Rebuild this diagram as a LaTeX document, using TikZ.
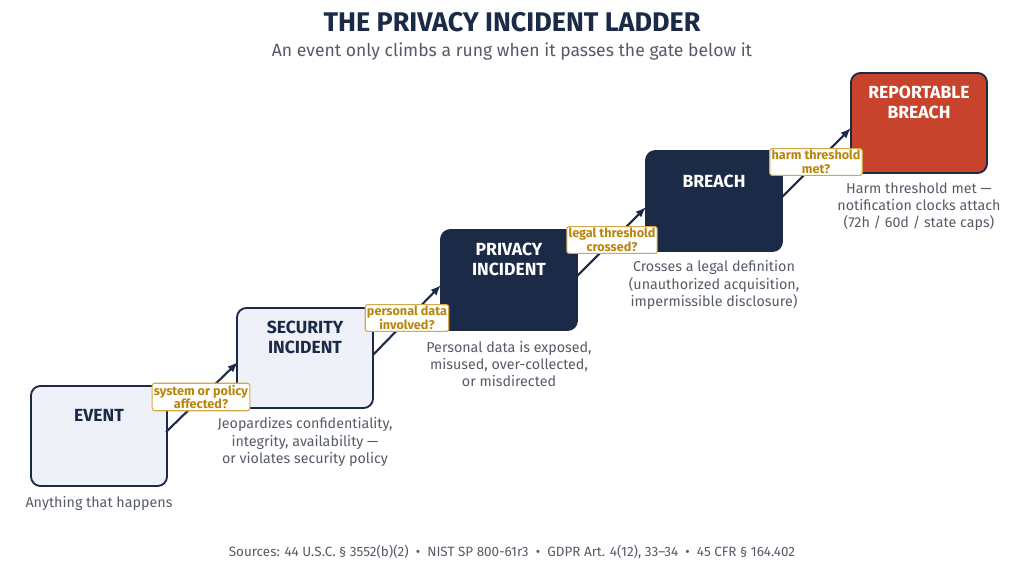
\documentclass[tikz,border=0pt]{standalone}
\usepackage{fontspec}
\setmainfont{Fira Sans}
\usetikzlibrary{arrows.meta}
\definecolor{navy}{HTML}{1B2A47}
\definecolor{pale}{HTML}{EEF1F8}
\definecolor{brick}{HTML}{C8432B}
\definecolor{gold}{HTML}{B8860B}
\definecolor{goldline}{HTML}{D4A84A}
\definecolor{grey}{HTML}{555B66}
\tikzset{
  rung/.style={draw=navy,line width=1.6pt,rounded corners=8pt,minimum width=136*0.03cm,minimum height=100*0.03cm},
  rungtxt/.style={font=\fontsize{15}{17}\selectfont\bfseries,align=center},
  gate/.style={draw=goldline,fill=white,line width=0.9pt,rounded corners=2pt,inner sep=1.5pt,font=\fontsize{10.8}{11.5}\selectfont\bfseries,text=gold,align=center},
  note/.style={font=\fontsize{12.2}{14.6}\selectfont,text=grey,align=center},
  climb/.style={draw=navy,line width=1.8pt,-{Latex[length=9pt,width=7pt]}}
}
\begin{document}
\begin{tikzpicture}[x=0.03cm,y=-0.03cm]
\useasboundingbox (0,0) rectangle (1024,583);
\node[font=\fontsize{23}{26}\selectfont\bfseries,text=navy] (title) at (512,22) {THE PRIVACY INCIDENT LADDER};
\node[font=\fontsize{15}{17}\selectfont,text=grey] (sub) at (512,52) {An event only climbs a rung when it passes the gate below it};
% rungs
\node[rung,fill=pale] (ev) at (99,436) {};
\node[rung,fill=pale] (si) at (305,358) {};
\node[rung,fill=navy] (pi) at (509,280) {};
\node[rung,fill=navy] (br) at (714,201) {};
\node[rung,fill=brick] (rb) at (919,123) {};
\node[rungtxt,text=navy] at (99,415) {EVENT};
\node[rungtxt,text=navy] at (305,337) {SECURITY\\INCIDENT};
\node[rungtxt,text=white] at (509,259) {PRIVACY\\INCIDENT};
\node[rungtxt,text=white] at (714,181) {BREACH};
\node[rungtxt,text=white] at (919,102) {REPORTABLE\\BREACH};
% connectors
\coordinate (e1) at (166,432); \coordinate (s0) at (238,362);
\coordinate (s1) at (373,355); \coordinate (p0) at (441,285);
\coordinate (p1) at (577,276); \coordinate (b0) at (646,207);
\coordinate (b1) at (782,197); \coordinate (r0) at (851,128);
\draw[climb] (e1) -- (s0);
\draw[climb] (s1) -- (p0);
\draw[climb] (p1) -- (b0);
\draw[climb] (b1) -- (r0);
% gates
\node[gate] (g1) at (201,397) {system or policy\\affected?};
\node[gate] (g2) at (407,318) {personal data\\involved?};
\node[gate] (g3) at (612,240) {legal threshold\\crossed?};
\node[gate] (g4) at (816,162) {harm threshold\\met?};
% notes
\node[note] (n1) at (99,503) {Anything that happens};
\node[note] (n2) at (305,442) {Jeopardizes confidentiality,\\integrity, availability —\\or violates security policy};
\node[note] (n3) at (509,364) {Personal data is exposed,\\misused, over-collected,\\or misdirected};
\node[note] (n4) at (714,285) {Crosses a legal definition\\(unauthorized acquisition,\\impermissible disclosure)};
\node[note] (n5) at (919,207) {Harm threshold met —\\notification clocks attach\\(72h / 60d / state caps)};
\node[font=\fontsize{11.5}{13}\selectfont,text=grey] (src) at (512,552) {Sources: 44 U.S.C. § 3552(b)(2) \ • \ NIST SP 800-61r3 \ • \ GDPR Art. 4(12), 33–34 \ • \ 45 CFR § 164.402};
\end{tikzpicture}
\end{document}
